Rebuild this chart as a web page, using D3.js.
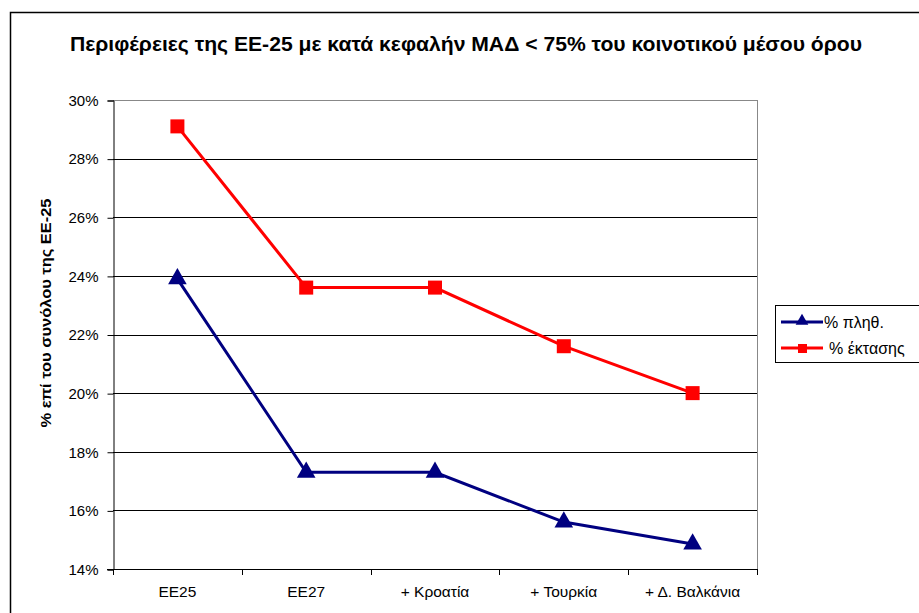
<!DOCTYPE html>
<html>
<head>
<meta charset="utf-8">
<script src="https://cdn.jsdelivr.net/npm/d3@7"></script>
<style>
  body { margin: 0; background: #fff; }
  text { font-family: Arial, "Liberation Sans", sans-serif; }
</style>
</head>
<body>
<div id="chart"></div>
<script>
var categories = ["EE25", "EE27", "+ Κροατία", "+ Τουρκία", "+ Δ. Βαλκάνια"];
var population = [23.9, 17.3, 17.3, 15.6, 14.85];   // % πληθ.
var area = [29.1, 23.6, 23.6, 21.6, 20.0];          // % έκτασης
var yTicks = [14, 16, 18, 20, 22, 24, 26, 28, 30];
var seriesNames = ["% πληθ.", "% έκτασης"];

var svg = d3.select("#chart")
            .append("svg")
            .attr("width", 919)
            .attr("height", 613)

// outer chart frame (runs off right and bottom)
svg.append("rect")
    .attr("x", 10.5).attr("y", 12.5)
    .attr("width", 940).attr("height", 640)
    .style("fill", "white").style("stroke", "black").style("stroke-width", 1.5)

svg.append("text")
    .attr("x", 466).attr("y", 51)
    .attr("text-anchor", "middle")
    .attr("textLength", 792).attr("lengthAdjust", "spacingAndGlyphs")
    .style("font-size", "20px").style("font-weight", "bold")
    .text("Περιφέρειες της ΕΕ-25 με κατά κεφαλήν ΜΑΔ < 75% του κοινοτικού μέσου όρου")

var plotL = 113, plotR = 757, plotT = 100, plotB = 569

var x = d3.scaleBand().domain(categories).range([plotL, plotR])
var y = d3.scaleLinear().domain([14, 30]).range([plotB, plotT])

// gridlines
svg.append("g")
    .selectAll("line")
    .data(yTicks.slice(1))
    .enter()
    .append("line")
    .attr("x1", plotL).attr("x2", plotR)
    .attr("y1", function(d) { return Math.round(y(d)) + 0.5 })
    .attr("y2", function(d) { return Math.round(y(d)) + 0.5 })
    .style("stroke", function(d) { return d == 30 ? "#888" : "black" })
    .style("stroke-width", 1)

// right plot border
svg.append("line")
    .attr("x1", plotR + 0.5).attr("x2", plotR + 0.5)
    .attr("y1", plotT).attr("y2", plotB)
    .style("stroke", "#888")

var yAxis = svg.append("g")
    .attr("transform", "translate(" + (plotL + 0.5) + ",0.5)")
    .call(d3.axisLeft(y).tickValues(yTicks).tickSize(6).tickPadding(9)
        .tickFormat(function(d) { return d + "%" }))
yAxis.selectAll("text").style("font-size", "15px").style("fill", "black")
yAxis.select(".domain").style("stroke", "black")

var xAxis = svg.append("g")
    .attr("transform", "translate(0," + (plotB + 0.5) + ")")
    .call(d3.axisBottom(x).tickSize(0).tickPadding(16))
xAxis.selectAll("text").style("font-size", "15.5px").style("fill", "black")
xAxis.select(".domain").remove()
svg.append("line")
    .attr("x1", plotL - 6).attr("x2", plotR)
    .attr("y1", plotB + 0.5).attr("y2", plotB + 0.5)
    .style("stroke", "black")

// category boundary ticks
svg.append("g")
    .selectAll("line")
    .data(categories)
    .enter()
    .append("line")
    .attr("x1", function(d) { return Math.round(x(d)) + 0.5 })
    .attr("x2", function(d) { return Math.round(x(d)) + 0.5 })
    .attr("y1", plotB).attr("y2", plotB + 6)
    .style("stroke", "black")
svg.append("line")
    .attr("x1", plotR + 0.5).attr("x2", plotR + 0.5)
    .attr("y1", plotB).attr("y2", plotB + 6)
    .style("stroke", "black")

svg.append("text")
    .attr("transform", "translate(51,313) rotate(-90)")
    .attr("text-anchor", "middle")
    .attr("textLength", 229).attr("lengthAdjust", "spacingAndGlyphs")
    .style("font-size", "15px").style("font-weight", "bold")
    .text("% επί του συνόλου  της ΕΕ-25")

var line = d3.line()
    .x(function(d, i) { return x(categories[i]) + x.bandwidth() / 2 })
    .y(function(d) { return y(d) })

svg.append("path")
    .datum(population)
    .attr("d", line)
    .style("fill", "none").style("stroke", "#000080").style("stroke-width", 3)

svg.append("path")
    .datum(area)
    .attr("d", line)
    .style("fill", "none").style("stroke", "red").style("stroke-width", 3)

var triangle = d3.symbol().type(d3.symbolTriangle).size(150)

svg.append("g")
    .selectAll("path")
    .data(population)
    .enter()
    .append("path")
    .attr("d", triangle)
    .attr("transform", function(d, i) {
        return "translate(" + (x(categories[i]) + x.bandwidth() / 2) + "," + y(d) + ")"
    })
    .style("fill", "#000080")

svg.append("g")
    .selectAll("rect")
    .data(area)
    .enter()
    .append("rect")
    .attr("x", function(d, i) { return x(categories[i]) + x.bandwidth() / 2 - 7 })
    .attr("y", function(d) { return y(d) - 7 })
    .attr("width", 14).attr("height", 14)
    .style("fill", "red")

// legend
var legend = svg.append("g").attr("transform", "translate(775,305)")
legend.append("rect")
    .attr("x", 0.5).attr("y", 0.5)
    .attr("width", 160).attr("height", 57)
    .style("fill", "white").style("stroke", "black")

legend.append("line")
    .attr("x1", 6).attr("x2", 48).attr("y1", 17).attr("y2", 17)
    .style("stroke", "#000080").style("stroke-width", 3)
legend.append("path")
    .attr("d", d3.symbol().type(d3.symbolTriangle).size(70))
    .attr("transform", "translate(27,16)")
    .style("fill", "#000080")
legend.append("text")
    .attr("x", 49).attr("y", 23)
    .style("font-size", "16px")
    .text(seriesNames[0])

legend.append("line")
    .attr("x1", 6).attr("x2", 48).attr("y1", 43).attr("y2", 43)
    .style("stroke", "red").style("stroke-width", 3)
legend.append("rect")
    .attr("x", 23).attr("y", 39).attr("width", 9).attr("height", 9)
    .style("fill", "red")
legend.append("text")
    .attr("x", 54).attr("y", 49)
    .style("font-size", "16px")
    .text(seriesNames[1])
</script>
</body>
</html>
